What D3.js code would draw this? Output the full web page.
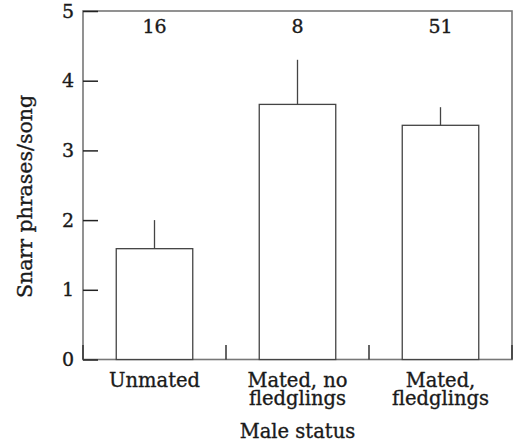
<!DOCTYPE html>
<html>
<head>
<meta charset="utf-8">
<script src="https://cdn.jsdelivr.net/npm/d3@7"></script>
<style>
  html, body { margin: 0; padding: 0; background: #fff; }
  svg { display: block; }
  text { font-family: "DejaVu Serif", "Liberation Serif", serif; fill: #1a1a1a; stroke: #1a1a1a; stroke-width: 0.35px; }
</style>
</head>
<body>
<svg id="chart" width="515" height="444"></svg>
<script>
// Snarr phrases per song by male status
const categories = ["Unmated", "Mated, no\nfledglings", "Mated,\nfledglings"];
const means = [1.59, 3.66, 3.36];
const upperErr = [2.0, 4.30, 3.62];
const sampleSizes = ["16", "8", "51"];
const yTicks = [0, 1, 2, 3, 4, 5];

const margin = { top: 11, right: 3, bottom: 84.5, left: 83 };
const W = 515, H = 444;
const innerW = W - margin.left - margin.right;
const innerH = H - margin.top - margin.bottom;

const svg = d3.select("#chart");
const g = svg.append("g").attr("transform", `translate(${margin.left},${margin.top})`);

const x = d3.scaleBand().domain(categories).range([0, innerW]).padding(0);
const y = d3.scaleLinear().domain([0, 5]).range([innerH, 0]);
const barW = x.bandwidth() * 0.535;

// frame
g.append("rect")
  .attr("x", 0).attr("y", 0).attr("width", innerW).attr("height", innerH)
  .attr("fill", "none").attr("stroke", "#777").attr("stroke-width", 1.6);

// bars
g.selectAll("rect.bar").data(categories).join("rect")
  .attr("class", "bar")
  .attr("x", (d) => x(d) + (x.bandwidth() - barW) / 2)
  .attr("y", (d, i) => y(means[i]))
  .attr("width", barW)
  .attr("height", (d, i) => y(0) - y(means[i]))
  .attr("fill", "#fff").attr("stroke", "#444").attr("stroke-width", 1.3);

// upper error whiskers
g.selectAll("line.err").data(categories).join("line")
  .attr("class", "err")
  .attr("x1", (d) => x(d) + x.bandwidth() / 2)
  .attr("x2", (d) => x(d) + x.bandwidth() / 2)
  .attr("y1", (d, i) => y(means[i]))
  .attr("y2", (d, i) => y(upperErr[i]))
  .attr("stroke", "#444").attr("stroke-width", 1.3);

// sample sizes
g.selectAll("text.n").data(categories).join("text")
  .attr("class", "n")
  .attr("x", (d) => x(d) + x.bandwidth() / 2)
  .attr("y", 22)
  .attr("text-anchor", "middle")
  .attr("font-size", 19)
  .text((d, i) => sampleSizes[i]);

// y axis (inward ticks)
const yAxis = g.append("g")
  .call(d3.axisLeft(y).tickValues(yTicks).tickFormat(d3.format("d"))
    .tickSizeInner(-15).tickSizeOuter(0).tickPadding(9));
yAxis.select(".domain").remove();
yAxis.selectAll(".tick line").attr("stroke", "#222").attr("stroke-width", 1.5);
yAxis.selectAll(".tick text")
  .attr("font-size", 19).attr("font-family", "DejaVu Serif").attr("fill", "#1a1a1a");

// category boundary ticks on the x axis
const bounds = categories.map((c) => x(c)).concat([x.range()[1]]);
g.selectAll("line.xt").data(bounds).join("line")
  .attr("class", "xt")
  .attr("x1", (d) => d).attr("x2", (d) => d)
  .attr("y1", innerH).attr("y2", innerH - 14.5)
  .attr("stroke", "#333").attr("stroke-width", 1.5);

// category labels
const xl = g.append("g").attr("transform", `translate(0,${innerH})`)
  .selectAll("text").data(categories).join("text")
  .attr("text-anchor", "middle")
  .attr("font-size", 19.5)
  .attr("x", (d) => x(d) + x.bandwidth() / 2);
xl.each(function (d) {
  const lines = d.split("\n");
  const t = d3.select(this);
  lines.forEach((ln, i) => {
    t.append("tspan")
      .attr("x", x(d) + x.bandwidth() / 2)
      .attr("y", 27 + i * 18.5)
      .text(ln);
  });
});

// axis titles
svg.append("text")
  .attr("x", margin.left + innerW / 2)
  .attr("y", 438)
  .attr("text-anchor", "middle")
  .attr("font-size", 19.5)
  .text("Male status");

svg.append("text")
  .attr("transform", "translate(31.5,196.5) rotate(-90)")
  .attr("text-anchor", "middle")
  .attr("font-size", 20.5)
  .text("Snarr phrases/song");
</script>
</body>
</html>
